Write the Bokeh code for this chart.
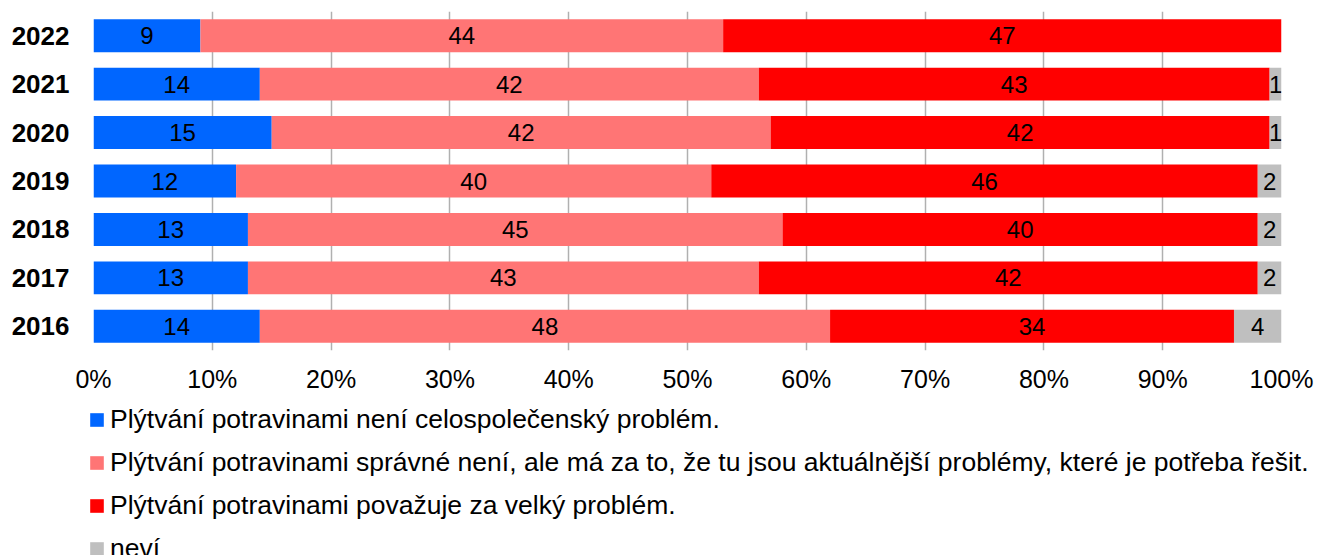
from bokeh.plotting import figure
from bokeh.layouts import column
from bokeh.models import ColumnDataSource, Range1d, FixedTicker, Legend, LegendItem
from bokeh.core.properties import value
from bokeh.embed import file_html
from bokeh.resources import INLINE

years = ["2016", "2017", "2018", "2019", "2020", "2021", "2022"]
not_problem = [14, 13, 13, 12, 15, 14, 9]
not_right_but = [48, 43, 45, 40, 42, 42, 44]
big_problem = [34, 42, 40, 46, 42, 43, 47]
dont_know = [4, 2, 2, 2, 1, 1, 0]

series_names = [
    "Plýtvání potravinami není celospolečenský problém.",
    "Plýtvání potravinami správné není, ale má za to, že tu jsou aktuálnější problémy, které je potřeba řešit.",
    "Plýtvání potravinami považuje za velký problém.",
    "neví",
]
colors = ["#0066FF", "#FF7575", "#FF0000", "#BFBFBF"]
tick_values = [0, 10, 20, 30, 40, 50, 60, 70, 80, 90, 100]
tick_labels = ["0%", "10%", "20%", "30%", "40%", "50%", "60%", "70%", "80%", "90%", "100%"]

FONT = "Liberation Sans"
keys = ["s1", "s2", "s3", "s4"]
series = [not_problem, not_right_but, big_problem, dont_know]
src = ColumnDataSource(dict(year=years, s1=not_problem, s2=not_right_but, s3=big_problem, s4=dont_know))

p = figure(width=1317, height=398, y_range=years, x_range=Range1d(0, 100),
           output_backend="svg", toolbar_location=None,
           min_border_left=93, min_border_right=36, min_border_top=11, min_border_bottom=48)
p.outline_line_color = None
p.frame_align = False

renderers = p.hbar_stack(keys, y="year", height=0.68, color=colors, source=src, line_color=None)

# segment labels
lx, ly, lt = [], [], []
left = [0] * len(years)
for vals in series:
    for i, v in enumerate(vals):
        if v > 0:
            lx.append(left[i] + v / 2)
            ly.append(years[i])
            lt.append(str(v))
        left[i] += v
p.text(x=lx, y=ly, text=lt, text_align="center", text_baseline="middle",
       text_font=value(FONT), text_font_size="24px", text_color="black")

p.xaxis.ticker = FixedTicker(ticks=tick_values)
p.xaxis.major_label_overrides = {v: l for v, l in zip(tick_values, tick_labels)}
p.xgrid.ticker = FixedTicker(ticks=tick_values)
p.xgrid.grid_line_color = "#B0B0B0"
p.xgrid.grid_line_width = 1.5
p.ygrid.visible = False

for ax in (p.xaxis, p.yaxis):
    ax.axis_line_color = None
    ax.major_tick_line_color = None
    ax.minor_tick_line_color = None
    ax.major_tick_out = 0
    ax.major_tick_in = 0
    ax.minor_tick_out = 0
    ax.minor_tick_in = 0
    ax.major_label_text_font = FONT
    ax.major_label_text_color = "black"
p.xaxis.major_label_text_font_size = "25px"
p.xaxis.major_label_standoff = 14
p.yaxis.major_label_text_font_size = "26px"
p.yaxis.major_label_text_font_style = "bold"
p.yaxis.major_label_standoff = 24

# legend panel below the chart (swatch renderers sit outside the visible range)
lg = figure(width=1317, height=157, x_range=Range1d(0, 1), y_range=Range1d(0, 1),
            output_backend="svg", toolbar_location=None,
            min_border_left=88, min_border_right=0, min_border_top=6, min_border_bottom=0)
lg.frame_align = False
lg.axis.visible = False
lg.grid.visible = False
lg.outline_line_color = None
swatch = [lg.hbar(y=[-5], right=[0], height=1, color=c, line_color=None) for c in colors]
items = [LegendItem(label=n, renderers=[r]) for n, r in zip(series_names, swatch)]
legend = Legend(items=items, location="top_left", orientation="vertical",
                label_text_font=FONT, label_text_font_size="26.5px", label_text_color="black",
                glyph_width=17, glyph_height=17, label_height=30, label_standoff=5, spacing=12,
                padding=0, margin=0, border_line_color=None, background_fill_alpha=0)
lg.add_layout(legend, "center")

open("out.html", "w").write(file_html(column(p, lg), INLINE))
